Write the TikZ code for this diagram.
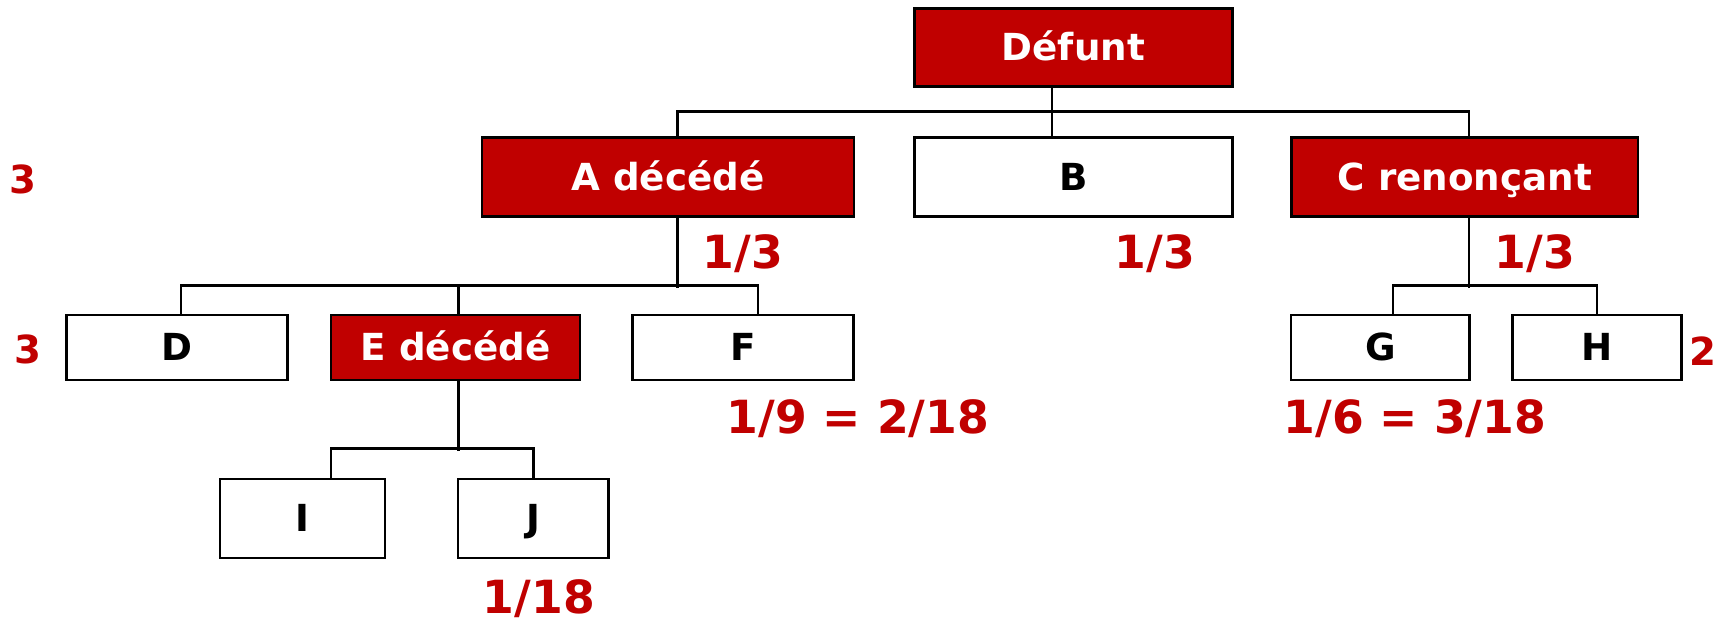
\documentclass[tikz,border=0pt]{standalone}
\usepackage{fontspec}
\setmainfont{DejaVu Sans}
\usepackage{tikz}
\usetikzlibrary{positioning, calc}
\definecolor{heirred}{RGB}{192,0,0}

\begin{document}
\begin{tikzpicture}[
		person/.style = {draw, line width = 0.8pt, text height = 0.73em, text depth = 0pt,
			font = \bfseries\fontsize{10.6}{12}\selectfont, inner sep = 0pt},
		dead/.style = {person, fill = heirred, text = white},
		alive/.style = {person, fill = white, text = black},
		share/.style = {anchor = base, text = heirred, font = \bfseries\fontsize{13}{15}\selectfont},
		count/.style = {anchor = base, text = heirred, font = \bfseries\fontsize{11}{13}\selectfont},
		link/.style = {line width = 0.7pt}
	]
	\useasboundingbox (0, 0) rectangle (17.3, -6.2);
	% boxes
	\node[dead, minimum width = 3.18cm, minimum height = 0.784cm] (defunt) at (10.734, -0.475) {Défunt};
	\node[dead, minimum width = 3.72cm, minimum height = 0.79cm] (A) at (6.68, -1.772) {A décédé};
	\node[alive, minimum width = 3.18cm, minimum height = 0.79cm] (B) at (10.734, -1.772) {B};
	\node[dead, minimum width = 3.463cm, minimum height = 0.79cm] (C) at (14.648, -1.772) {C renonçant};
	\node[alive, minimum width = 2.213cm, minimum height = 0.65cm] (D) at (1.77, -3.475) {D};
	\node[dead, minimum width = 2.49cm, minimum height = 0.65cm] (E) at (4.555, -3.475) {E décédé};
	\node[alive, minimum width = 2.206cm, minimum height = 0.65cm] (F) at (7.43, -3.475) {F};
	\node[alive, minimum width = 1.786cm, minimum height = 0.65cm] (G) at (13.803, -3.475) {G};
	\node[alive, minimum width = 1.687cm, minimum height = 0.65cm] (H) at (15.97, -3.475) {H};
	\node[alive, minimum width = 1.65cm, minimum height = 0.79cm] (I) at (3.025, -5.185) {I};
	\node[alive, minimum width = 1.506cm, minimum height = 0.79cm] (J) at (5.333, -5.185) {J};
	% lines
	\draw[link] ([xshift = -0.214cm]defunt.south) -- ([xshift = -0.214cm]B.north);
	\draw[link] ([xshift = 0.096cm]A.north) -- ++(0, 0.25) -| ([xshift = 0.042cm]C.north);
	\draw[link] ([xshift = 0.096cm]A.south) -- ++(0, -0.697);
	\draw[link] ([xshift = 0.04cm]D.north) -- ++(0, 0.283) -| ([xshift = 0.15cm]F.north);
	\draw[link] ([xshift = 0.03cm]E.north) -- ++(0, 0.283);
	\draw[link] ([xshift = 0.042cm]C.south) -- ++(0, -0.697);
	\draw[link] ([xshift = 0.127cm]G.north) -- ++(0, 0.283) -| (H.north);
	\draw[link] ([xshift = 0.03cm]E.south) -- ++(0, -0.697);
	\draw[link] ([xshift = 0.285cm]I.north) -- ++(0, 0.29) -| (J.north);
	% shares and counts
	\node[count] (nA) at (0.23, -1.93) {3};
	\node[count] (nD) at (0.28, -3.63) {3};
	\node[count] (nH) at (17.03, -3.65) {2};
	\node[share] (sA) at (7.43, -2.68) {1/3};
	\node[share] (sB) at (11.55, -2.68) {1/3};
	\node[share] (sC) at (15.35, -2.68) {1/3};
	\node[share] (sF) at (8.58, -4.33) {1/9 = 2/18};
	\node[share] (sG) at (14.15, -4.33) {1/6 = 3/18};
	\node[share] (sJ) at (5.39, -6.13) {1/18};
\end{tikzpicture}
\end{document}
